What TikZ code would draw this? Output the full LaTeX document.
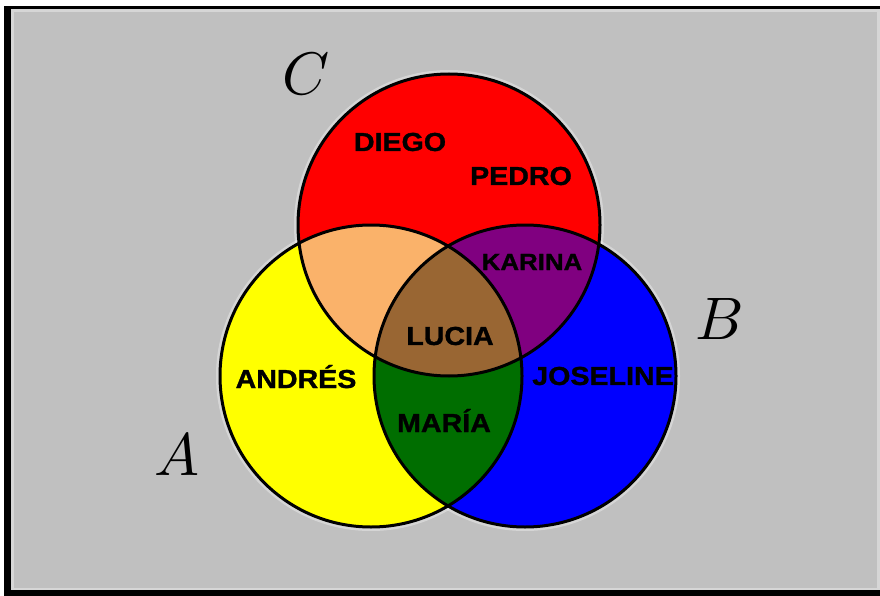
\documentclass[tikz,border=0pt]{standalone}
\usepackage{fontspec}
\newfontfamily\lblfont{Liberation Sans}[FakeStretch=1.1, FakeBold=1.2]
\definecolor{bggray}{RGB}{192,192,192}
\definecolor{edgegray}{RGB}{214,214,214}
\definecolor{setA}{RGB}{255,255,0}
\definecolor{setB}{RGB}{0,0,255}
\definecolor{setC}{RGB}{255,0,0}
\definecolor{setAC}{RGB}{250,178,106}
\definecolor{setBC}{RGB}{128,0,128}
\definecolor{setAB}{RGB}{0,110,0}
\definecolor{setABC}{RGB}{153,102,51}
\tikzset{
  elem/.style={font=\lblfont\bfseries\fontsize{26}{26}\selectfont, text=black, inner sep=0pt},
  small elem/.style={elem, font=\lblfont\bfseries\fontsize{23.5}{23.5}\selectfont},
  setletter/.style={inner sep=0pt},
  rim/.style={draw=black, line width=3pt},
  halo/.style={draw=white, line width=8pt, opacity=0.35}
}
\newcommand{\bigset}[1]{\scalebox{6}{$#1$}}
\begin{document}
\begin{tikzpicture}[x=1pt, y=-1pt]
  \useasboundingbox (0,0) rectangle (880,596);
  % frame
  \fill[white] (0,0) rectangle (880,596);
  \fill[black] (4,6) rectangle (884,597);
  \fill[edgegray] (11,9) rectangle (881,590);
  \fill[bggray] (14,12) rectangle (877,588);

  % circle centres
  \coordinate (cA) at (371,376);
  \coordinate (cB) at (525,376);
  \coordinate (cC) at (449,225);
  \def\rad{151}

  % soft light rim around the circles
  \foreach \c in {cA,cB,cC} \draw[halo] (\c) circle[radius=\rad];

  % single sets
  \fill[setA] (cA) circle[radius=\rad];
  \fill[setB] (cB) circle[radius=\rad];
  \fill[setC] (cC) circle[radius=\rad];
  % pairwise overlaps
  \begin{scope}
    \clip (cA) circle[radius=\rad];
    \fill[setAC] (cC) circle[radius=\rad];
  \end{scope}
  \begin{scope}
    \clip (cB) circle[radius=\rad];
    \fill[setBC] (cC) circle[radius=\rad];
  \end{scope}
  \begin{scope}
    \clip (cA) circle[radius=\rad];
    \fill[setAB] (cB) circle[radius=\rad];
  \end{scope}
  % triple overlap
  \begin{scope}
    \clip (cA) circle[radius=\rad];
    \clip (cB) circle[radius=\rad];
    \fill[setABC] (cC) circle[radius=\rad];
  \end{scope}
  % outlines
  \foreach \c in {cA,cB,cC} \draw[rim] (\c) circle[radius=\rad];

  % set names
  \node[setletter] (lA) at (177,455) {\bigset{A}};
  \node[setletter] (lB) at (720,319) {\bigset{B}};
  \node[setletter] (lC) at (306,74) {\bigset{C}};

  % elements
  \node[elem] (diego) at (400,142) {DIEGO};
  \node[elem] (pedro) at (521,176) {PEDRO};
  \node[small elem] (karina) at (532,262) {KARINA};
  \node[elem] (lucia) at (450,336) {LUCIA};
  \node[elem, anchor=base] (andres) at (296,388) {ANDRÉS};
  \node[elem] (joseline) at (603,376) {JOSELINE};
  \node[elem, anchor=base] (maria) at (444,432) {MARÍA};
\end{tikzpicture}
\end{document}
